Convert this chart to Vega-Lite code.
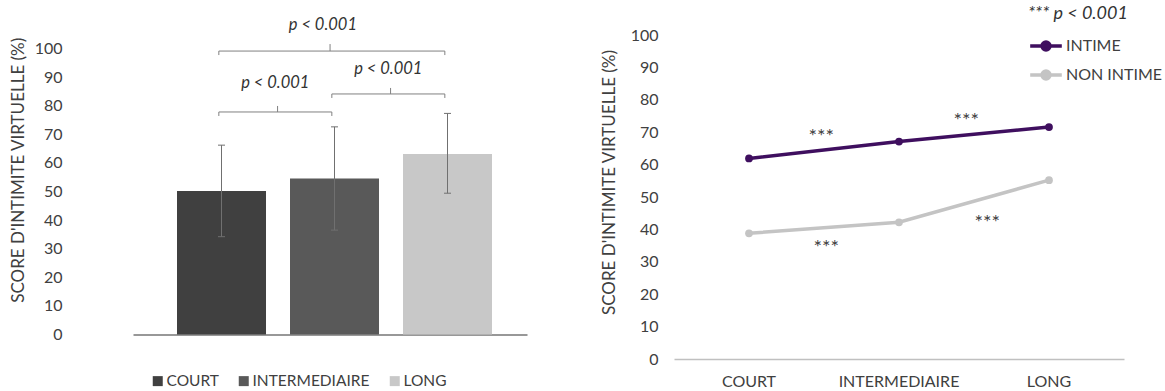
{
  "$schema": "https://vega.github.io/schema/vega-lite/v6.json",
  "background": "white",
  "padding": {"left": 9, "top": 5, "right": 0, "bottom": 0},
  "config": {
    "font": "Lato",
    "view": {"stroke": null},
    "axis": {"labelFont": "Lato", "titleFont": "Lato", "labelColor": "#404040", "titleColor": "#404040", "titleFontWeight": "normal", "labelFontSize": 16, "titleFontSize": 17, "grid": false, "ticks": false, "tickSize": 0, "labelOverlap": false},
    "legend": {"labelFont": "Lato", "labelFontSize": 15.5, "labelColor": "#404040", "titleFont": "Lato"}
  },
  "datasets": {
    "barres": [
      {"groupe": "COURT", "moyenne": 50.2, "bas": 34.2, "haut": 66.2},
      {"groupe": "INTERMEDIAIRE", "moyenne": 54.5, "bas": 36.5, "haut": 72.6},
      {"groupe": "LONG", "moyenne": 63.1, "bas": 49.4, "haut": 77.3}
    ],
    "crochets": [
      {"de": "COURT", "a": "LONG", "milieu": "INTERMEDIAIRE", "type": "global", "y": 99.1, "y_texte": 108.2, "texte": "p < 0.001"},
      {"de": "COURT", "a": "INTERMEDIAIRE", "milieu": "COURT", "type": "adjacent", "y": 77.8, "y_texte": 87.8, "texte": "p < 0.001"},
      {"de": "INTERMEDIAIRE", "a": "LONG", "milieu": "INTERMEDIAIRE", "type": "adjacent", "y": 84.1, "y_texte": 92.8, "texte": "p < 0.001"}
    ],
    "scores": [
      {"duree": "COURT", "condition": "INTIME", "score": 61.9},
      {"duree": "INTERMEDIAIRE", "condition": "INTIME", "score": 67.1},
      {"duree": "LONG", "condition": "INTIME", "score": 71.6},
      {"duree": "COURT", "condition": "NON INTIME", "score": 38.8},
      {"duree": "INTERMEDIAIRE", "condition": "NON INTIME", "score": 42.2},
      {"duree": "LONG", "condition": "NON INTIME", "score": 55.2}
    ],
    "etoiles": [
      {"id": 1, "categorie": "COURT", "y": 70.2, "texte": "***"},
      {"id": 2, "categorie": "INTERMEDIAIRE", "y": 75.1, "texte": "***"},
      {"id": 3, "categorie": "COURT", "y": 35.9, "texte": "***"},
      {"id": 4, "categorie": "INTERMEDIAIRE", "y": 43.4, "texte": "***"}
    ]
  },
  "spacing": 73,
  "resolve": {"scale": {"x": "independent", "y": "independent", "color": "independent"}, "legend": {"color": "independent"}},
  "hconcat": [
    {
      "width": 394,
      "height": 329.5,
      "layer": [
        {
          "data": {"name": "barres"},
          "mark": {"type": "bar"},
          "encoding": {
            "x": {"field": "groupe", "type": "nominal", "scale": {"type": "band", "domain": ["COURT", "INTERMEDIAIRE", "LONG"], "paddingInner": 0.2124, "paddingOuter": 0.3496, "align": 0.557}, "axis": {"labels": false, "ticks": false, "title": null, "domainColor": "#767676", "domainWidth": 1.5}},
            "y": {"field": "moyenne", "type": "quantitative", "scale": {"domain": [0, 115.2], "nice": false}, "axis": {"values": [0, 10, 20, 30, 40, 50, 60, 70, 80, 90, 100], "tickCount": 30, "labelOverlap": false, "domain": false, "labelPadding": 71, "title": "SCORE D'INTIMITE VIRTUELLE (%)", "titlePadding": 7}},
            "color": {"field": "groupe", "type": "nominal", "scale": {"domain": ["COURT", "INTERMEDIAIRE", "LONG"], "range": ["#404040", "#595959", "#c8c8c8"]},
              "legend": {"orient": "none", "legendX": 17, "legendY": 368, "direction": "horizontal", "title": null, "symbolType": "square", "symbolSize": 100, "symbolStrokeWidth": 0, "labelOffset": 1, "columnPadding": 17}}
          }
        },
        {
          "data": {"name": "barres"},
          "mark": {"type": "rule", "color": "#707070", "strokeWidth": 1},
          "encoding": {
            "x": {"field": "groupe", "type": "nominal", "bandPosition": 0.5},
            "y": {"field": "bas", "type": "quantitative"},
            "y2": {"field": "haut"}
          }
        },
        {
          "data": {"name": "barres"},
          "mark": {"type": "tick", "orient": "horizontal", "size": 7, "thickness": 1, "color": "#707070", "opacity": 1},
          "encoding": {
            "x": {"field": "groupe", "type": "nominal"},
            "y": {"field": "haut", "type": "quantitative"}
          }
        },
        {
          "data": {"name": "barres"},
          "mark": {"type": "tick", "orient": "horizontal", "size": 7, "thickness": 1, "color": "#707070", "opacity": 1},
          "encoding": {
            "x": {"field": "groupe", "type": "nominal"},
            "y": {"field": "bas", "type": "quantitative"}
          }
        },
        {
          "data": {"name": "crochets"},
          "mark": {"type": "rule", "color": "#808080", "strokeWidth": 1},
          "encoding": {
            "x": {"field": "de", "type": "nominal", "bandPosition": 0.47},
            "x2": {"field": "a", "bandPosition": 0.47},
            "y": {"field": "y", "type": "quantitative"}
          }
        },
        {
          "data": {"name": "crochets"},
          "transform": [{"fold": ["de", "a"], "as": ["bout", "cat"]}],
          "mark": {"type": "point", "shape": "M0,0L0,1", "size": 64, "filled": false, "color": "#808080", "strokeWidth": 1, "opacity": 1},
          "encoding": {
            "x": {"field": "cat", "type": "nominal", "bandPosition": 0.47},
            "y": {"field": "y", "type": "quantitative"}
          }
        },
        {
          "data": {"name": "crochets"},
          "transform": [{"filter": "datum.type === 'adjacent'"}],
          "mark": {"type": "point", "shape": "M0,0L0,-1", "size": 144, "filled": false, "color": "#808080", "strokeWidth": 1, "opacity": 1},
          "encoding": {
            "x": {"field": "milieu", "type": "nominal", "bandPosition": 1.13},
            "y": {"field": "y", "type": "quantitative"}
          }
        },
        {
          "data": {"name": "crochets"},
          "transform": [{"filter": "datum.type === 'global'"}],
          "mark": {"type": "point", "shape": "M0,0L0,-1", "size": 196, "filled": false, "color": "#808080", "strokeWidth": 1, "opacity": 1},
          "encoding": {
            "x": {"field": "milieu", "type": "nominal", "bandPosition": 0.45},
            "y": {"field": "y", "type": "quantitative"}
          }
        },
        {
          "data": {"name": "crochets"},
          "transform": [{"filter": "datum.type === 'adjacent'"}],
          "mark": {"type": "text", "fontSize": 16.5, "fontStyle": "italic", "color": "#333333", "baseline": "middle", "align": "center"},
          "encoding": {
            "x": {"field": "milieu", "type": "nominal", "bandPosition": 1.105},
            "y": {"field": "y_texte", "type": "quantitative"},
            "text": {"field": "texte"}
          }
        },
        {
          "data": {"name": "crochets"},
          "transform": [{"filter": "datum.type === 'global'"}],
          "mark": {"type": "text", "fontSize": 16.5, "fontStyle": "italic", "color": "#333333", "baseline": "middle", "align": "center"},
          "encoding": {
            "x": {"field": "milieu", "type": "nominal", "bandPosition": 0.37},
            "y": {"field": "y_texte", "type": "quantitative"},
            "text": {"field": "texte"}
          }
        }
      ]
    },
    {
      "width": 450,
      "height": 354,
      "layer": [
        {
          "data": {"name": "scores"},
          "mark": {"type": "line", "strokeWidth": 3.5, "point": {"filled": true, "size": 60, "opacity": 1}},
          "encoding": {
            "x": {"field": "duree", "type": "nominal", "bandPosition": 0.5, "scale": {"type": "band", "domain": ["COURT", "INTERMEDIAIRE", "LONG"], "paddingInner": 0, "paddingOuter": 0}, "axis": {"title": null, "labelAngle": 0, "labelPadding": 14, "domainColor": "#c0c0c0", "domainWidth": 1.5, "ticks": false}},
            "y": {"field": "score", "type": "quantitative", "scale": {"domain": [0, 109.26], "nice": false}, "axis": {"values": [0, 10, 20, 30, 40, 50, 60, 70, 80, 90, 100], "tickCount": 30, "labelOverlap": false, "domain": false, "labelPadding": 16, "title": "SCORE D'INTIMITE VIRTUELLE (%)", "titlePadding": 12}},
            "color": {"field": "condition", "type": "nominal", "scale": {"domain": ["INTIME", "NON INTIME"], "range": ["#3f0f5f", "#c4c4c4"]},
              "legend": {"orient": "none", "legendX": 354, "legendY": 0, "title": "*** p < 0.001", "titleFontStyle": "italic", "titleFontWeight": "normal", "titleFontSize": 18, "titleColor": "#333333", "titlePadding": 5, "labelFontSize": 16,
                "symbolType": "M-1,0L1,0M-0.25,0A0.25,0.25,0,1,0,0.25,0A0.25,0.25,0,1,0,-0.25,0Z", "symbolSize": 1000, "symbolStrokeWidth": 3.5, "labelOffset": 2, "rowPadding": -1,
                "encode": {"symbols": {"update": {"fill": {"signal": "datum.value === 'INTIME' ? '#3f0f5f' : '#c4c4c4'"}, "stroke": {"signal": "datum.value === 'INTIME' ? '#3f0f5f' : '#c4c4c4'"}, "opacity": {"value": 1}}}}}}
          }
        },
        {
          "data": {"name": "etoiles"},
          "transform": [{"filter": "datum.id === 1"}],
          "mark": {"type": "text", "fontSize": 20, "color": "#404040", "baseline": "alphabetic", "align": "center", "dy": 11},
          "encoding": {"x": {"field": "categorie", "type": "nominal", "bandPosition": 0.982}, "y": {"field": "y", "type": "quantitative"}, "text": {"field": "texte"}}
        },
        {
          "data": {"name": "etoiles"},
          "transform": [{"filter": "datum.id === 2"}],
          "mark": {"type": "text", "fontSize": 20, "color": "#404040", "baseline": "alphabetic", "align": "center", "dy": 11},
          "encoding": {"x": {"field": "categorie", "type": "nominal", "bandPosition": 0.949}, "y": {"field": "y", "type": "quantitative"}, "text": {"field": "texte"}}
        },
        {
          "data": {"name": "etoiles"},
          "transform": [{"filter": "datum.id === 3"}],
          "mark": {"type": "text", "fontSize": 20, "color": "#404040", "baseline": "alphabetic", "align": "center", "dy": 11},
          "encoding": {"x": {"field": "categorie", "type": "nominal", "bandPosition": 1.015}, "y": {"field": "y", "type": "quantitative"}, "text": {"field": "texte"}}
        },
        {
          "data": {"name": "etoiles"},
          "transform": [{"filter": "datum.id === 4"}],
          "mark": {"type": "text", "fontSize": 20, "color": "#404040", "baseline": "alphabetic", "align": "center", "dy": 11},
          "encoding": {"x": {"field": "categorie", "type": "nominal", "bandPosition": 1.089}, "y": {"field": "y", "type": "quantitative"}, "text": {"field": "texte"}}
        }
      ]
    }
  ]
}
